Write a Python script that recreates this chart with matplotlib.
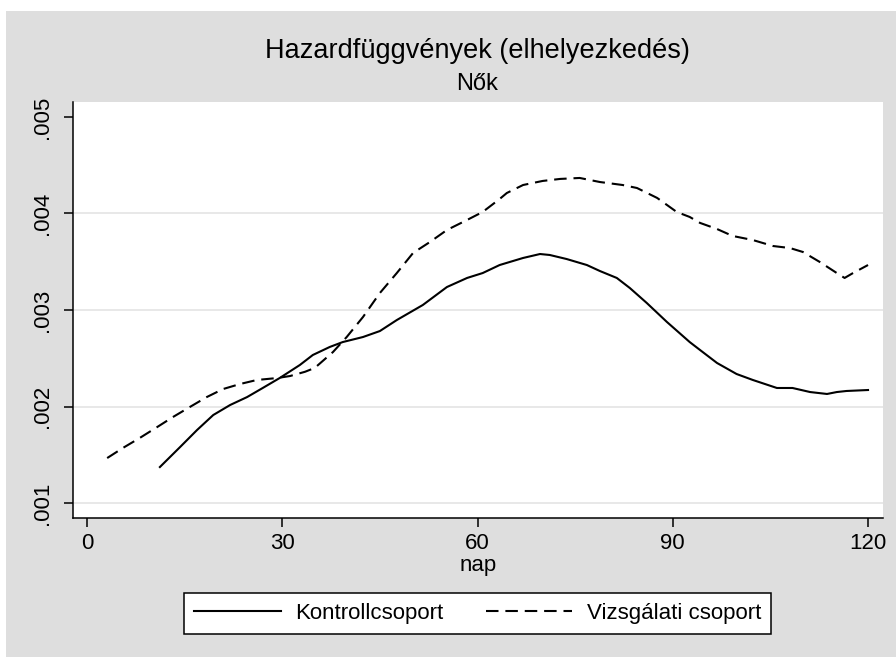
import matplotlib
matplotlib.use("Agg")
import matplotlib.pyplot as plt
from matplotlib.patches import Rectangle

# Data
kontroll_day = [11.2, 14.3, 16.9, 19.4, 22.0, 24.6, 27.0, 29.6, 32.7, 34.7, 37.3, 39.3,
                42.4, 45.0, 47.6, 51.6, 55.3, 58.4, 60.8, 63.4, 67.0, 69.6, 71.1, 73.7,
                76.8, 78.8, 81.4, 83.4, 86.0, 89.1, 92.6, 94.2, 96.8, 99.8, 102.3, 106.0,
                108.4, 111.1, 113.7, 115.2, 116.7, 120.0]
kontroll_val = [0.001373, 0.00158, 0.001756, 0.001912, 0.002016, 0.002098, 0.002192,
                0.002295, 0.00243, 0.002534, 0.002617, 0.002668, 0.00272, 0.002782,
                0.002896, 0.003052, 0.003238, 0.003332, 0.003383, 0.003466, 0.003539,
                0.00358, 0.00357, 0.003528, 0.003466, 0.003404, 0.003332, 0.003228,
                0.003073, 0.002876, 0.002668, 0.002585, 0.002451, 0.002337, 0.002275,
                0.002192, 0.002192, 0.00215, 0.00213, 0.00215, 0.002161, 0.002171]

vizsg_day = [3.1, 5.5, 8.1, 10.8, 13.2, 15.8, 18.4, 20.9, 23.5, 26.1, 29.2, 31.2, 33.5,
             35.0, 37.8, 39.9, 42.4, 45.0, 47.6, 50.1, 52.7, 55.3, 58.4, 60.8, 63.4,
             64.5, 67.0, 70.0, 72.7, 75.7, 78.8, 82.3, 84.5, 87.6, 90.6, 92.6, 94.2,
             96.8, 99.2, 102.3, 105.4, 108.0, 110.0, 112.6, 115.2, 116.4, 117.7, 120.0]
vizsg_val = [0.001466, 0.00157, 0.001674, 0.001788, 0.001891, 0.001995, 0.002098,
             0.002181, 0.002233, 0.002275, 0.002295, 0.002316, 0.00236, 0.0024,
             0.002565, 0.00272, 0.002927, 0.003176, 0.003383, 0.003591, 0.003705,
             0.003829, 0.003933, 0.004016, 0.00415, 0.004212, 0.004295, 0.004337,
             0.004358, 0.004368, 0.004326, 0.004295, 0.004264, 0.004161, 0.004016,
             0.003964, 0.003902, 0.003839, 0.003767, 0.003725, 0.003663, 0.003642,
             0.003601, 0.003497, 0.003383, 0.003332, 0.003383, 0.003466]

series_labels = ["Kontrollcsoport", "Vizsgálati csoport"]
xticks = [0, 30, 60, 90, 120]
yticks = [0.001, 0.002, 0.003, 0.004, 0.005]
ytick_labels = [".001", ".002", ".003", ".004", ".005"]
title = "Hazardfüggvények (elhelyezkedés)"
subtitle = "Nők"
xlabel = "nap"

plt.rcParams['font.family'] = ['Liberation Sans', 'DejaVu Sans']

W, H = 896, 657
fig = plt.figure(figsize=(W / 100, H / 100), dpi=100)
fig.patch.set_facecolor("white")
bg = Rectangle((6 / W, 0), 1 - 6 / W, (H - 11) / H, transform=fig.transFigure,
               facecolor="#DEDEDE", edgecolor="none", zorder=-10)
fig.patches.append(bg)

L, R, T, B = 73, 883, 102, 518
ax = fig.add_axes([L / W, (H - B) / H, (R - L) / W, (B - T) / H])
ax.set_facecolor("white")

for yv in yticks[:-1]:
    ax.axhline(yv, color="#E6E6E6", lw=1.3, zorder=1)

ax.plot(kontroll_day, kontroll_val, color="black", lw=1.5, label=series_labels[0], zorder=3)
ax.plot(vizsg_day, vizsg_val, color="black", lw=1.5, dashes=(6, 3.3),
        label=series_labels[1], zorder=3)

ax.set_xlim(-2.15, 122.3)
ax.set_ylim(0.000845, 0.005155)

for s in ["top", "right"]:
    ax.spines[s].set_visible(False)
for s in ["left", "bottom"]:
    ax.spines[s].set_color("black")
    ax.spines[s].set_linewidth(1.1)

ax.set_xticks(xticks)
ax.set_xticklabels([str(v) for v in xticks])
ax.set_yticks(yticks)
ax.set_yticklabels(ytick_labels, rotation=90, va="center")
ax.tick_params(axis="both", direction="out", length=6.5, width=1.1, color="black",
               labelsize=16, labelcolor="black")
ax.tick_params(axis="x", pad=4)
ax.tick_params(axis="y", pad=8)

ax.set_xlabel(xlabel, fontsize=16, labelpad=1)

fig.text(477 / W, 1 - 58 / H, title, ha="center", va="baseline", fontsize=19.5)
fig.text(477 / W, 1 - 90 / H, subtitle, ha="center", va="baseline", fontsize=17)

leg = fig.legend(loc="center", bbox_to_anchor=(477.5 / W, 1 - 613 / H), ncol=2,
                 fontsize=16, handlelength=3.9, handletextpad=0.65, columnspacing=1.9,
                 borderpad=0.45, fancybox=False, frameon=True, framealpha=1)
leg.get_frame().set_edgecolor("black")
leg.get_frame().set_linewidth(1.1)

fig.savefig("out.png", dpi=100, facecolor=fig.get_facecolor())
